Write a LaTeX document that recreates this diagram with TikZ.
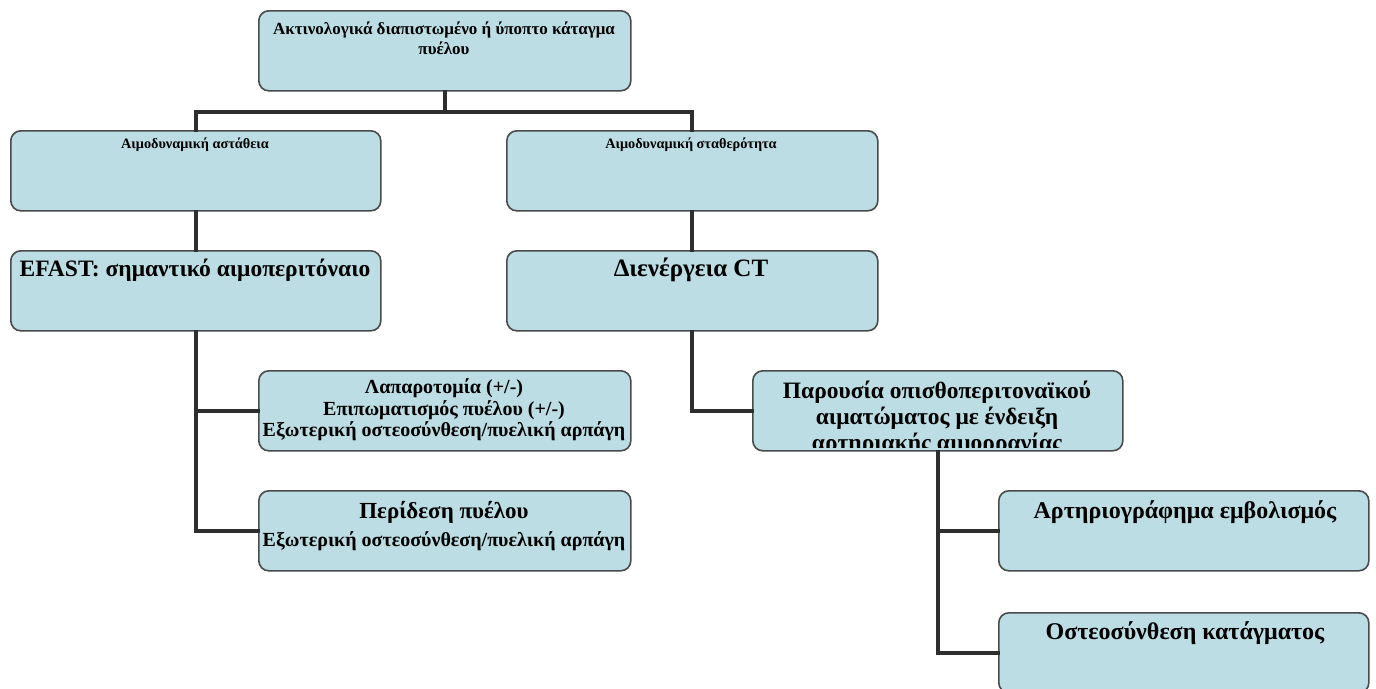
\documentclass[tikz,border=0pt]{standalone}
\usepackage{fontspec}
\setmainfont{Liberation Serif}
\definecolor{boxfill}{HTML}{BBDDE3}
\definecolor{boxline}{HTML}{4A4A4A}
\definecolor{conn}{HTML}{2E2E2E}
\begin{document}
\begin{tikzpicture}[x=1pt,y=-1pt,
  box/.style={draw=boxline, line width=1.6pt, fill=boxfill, rounded corners=10pt,
    minimum width=#1, minimum height=80pt, inner sep=0pt, anchor=north west},
  box/.default=372pt,
  txt/.style={font=\bfseries, align=center, text=black, inner sep=0pt},
  link/.style={draw=conn, line width=4pt, line cap=rect}
]
\clip (0,0) rectangle (1376,688);
\fill[white] (0,0) rectangle (1376,688);

\node[box=372pt] (top) at (258,10) {};
\node[box=370pt] (left) at (10,130) {};
\node[box=371pt] (right) at (506,130) {};
\node[box=370pt] (efast) at (10,250) {};
\node[box=371pt] (ct) at (506,250) {};
\node[box=372pt] (lap) at (258,370) {};
\node[box=372pt] (per) at (258,490) {};
\node[box=370pt] (par) at (752,370) {};
\node[box=370pt] (art) at (998,490) {};
\node[box=370pt] (ost) at (998,612) {};

\draw[link] (top.south) -- ++(0,20) -| (left.north);
\draw[link] (top.south) -- ++(0,20) -| (right.north);
\draw[link] (left.south) -- (efast.north);
\draw[link] (right.south) -- (ct.north);
\draw[link] (efast.south) |- (lap.west);
\draw[link] (efast.south) |- (per.west);
\draw[link] (ct.south) |- (par.west);
\draw[link] (par.south) |- (art.west);
\draw[link] (par.south) |- (ost.west);

\node[txt, font=\bfseries\fontsize{17}{20}\selectfont] (topT) at (444,38)
  {Ακτινολογικά διαπιστωμένο ή ύποπτο κάταγμα\\πυέλου};
\node[txt, font=\bfseries\fontsize{14.3}{16}\selectfont] (leftT) at (195,145) {Αιμοδυναμική αστάθεια};
\node[txt, font=\bfseries\fontsize{14.3}{16}\selectfont] (rightT) at (691,145) {Αιμοδυναμική σταθερότητα};
\node[txt, font=\bfseries\fontsize{23.5}{26}\selectfont] (efastT) at (195,270) {EFAST: σημαντικό αιμοπεριτόναιο};
\node[txt, font=\bfseries\fontsize{25}{28}\selectfont] (ctT) at (691,270) {Διενέργεια CT};
\node[txt, font=\bfseries\fontsize{20}{21.5}\selectfont] (lapT) at (444,410)
  {Λαπαροτομία (+/-)\\Επιπωματισμός πυέλου (+/-)\\Εξωτερική οστεοσύνθεση/πυελική αρπάγη};
\node[txt, font=\bfseries\fontsize{23}{26}\selectfont] (perT1) at (444,512) {Περίδεση πυέλου};
\node[txt, font=\bfseries\fontsize{20}{22}\selectfont] (perT2) at (444,541) {Εξωτερική οστεοσύνθεση/πυελική αρπάγη};
\begin{scope}
  \clip (752,370) rectangle (1122,447);
  \node[txt, font=\bfseries\fontsize{23.5}{26}\selectfont, anchor=north] (parT) at (937,381)
    {Παρουσία οπισθοπεριτοναϊκού\\αιματώματος με ένδειξη\\αρτηριακής αιμορραγίας};
\end{scope}
\node[txt, font=\bfseries\fontsize{24}{27}\selectfont] (artT) at (1185,512) {Αρτηριογράφημα εμβολισμός};
\node[txt, font=\bfseries\fontsize{24}{27}\selectfont] (ostT) at (1185,633) {Οστεοσύνθεση κατάγματος};
\end{tikzpicture}
\end{document}
